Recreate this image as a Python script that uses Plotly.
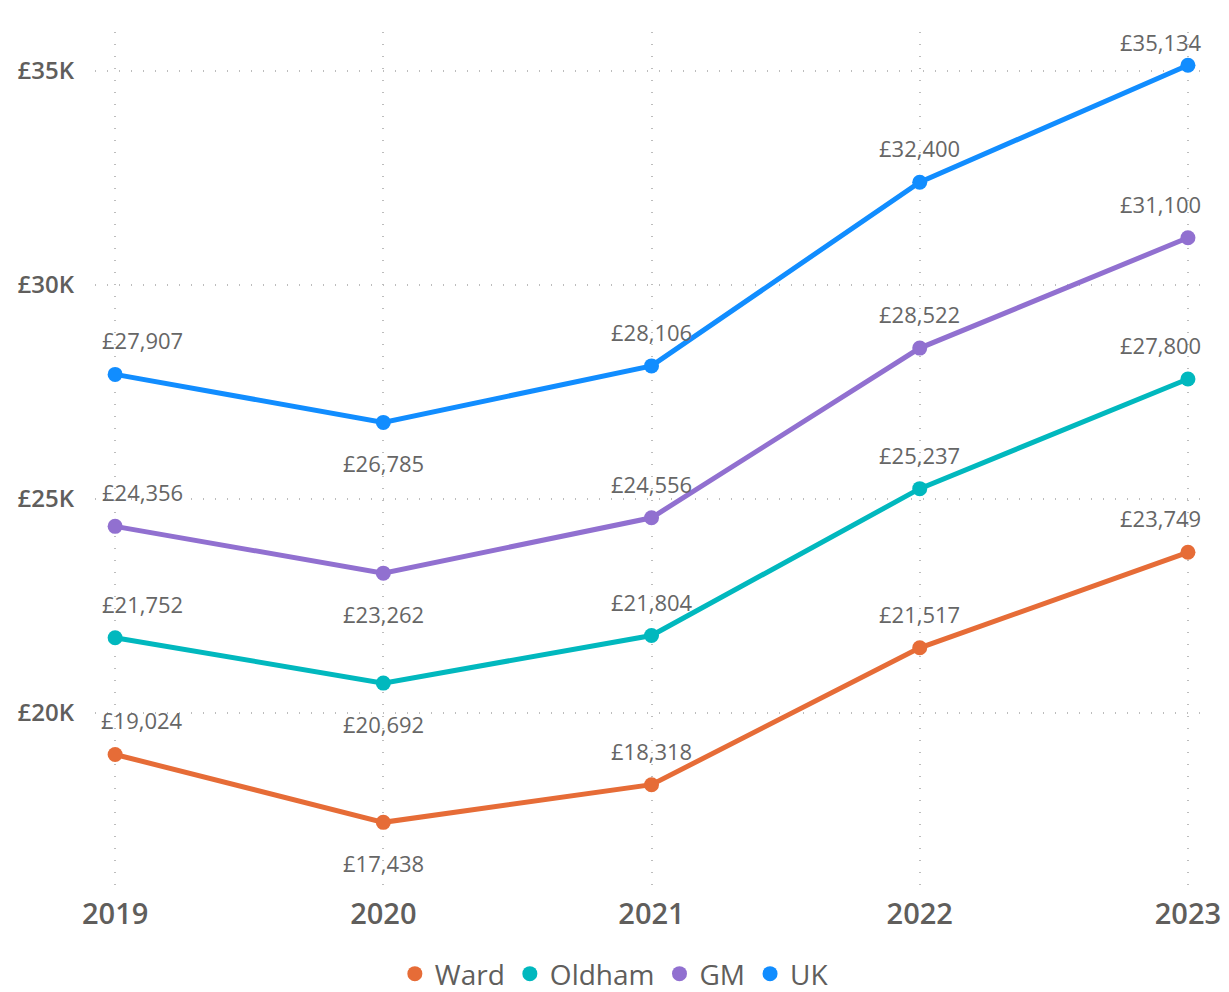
import plotly.graph_objects as go

years = [2019, 2020, 2021, 2022, 2023]
series_names = ["Ward", "Oldham", "GM", "UK"]
ward = [19024, 17438, 18318, 21517, 23749]
oldham = [21752, 20692, 21804, 25237, 27800]
gm = [24356, 23262, 24556, 28522, 31100]
uk = [27907, 26785, 28106, 32400, 35134]
y_tick_vals = [20000, 25000, 30000, 35000]
y_tick_text = ["£20K", "£25K", "£30K", "£35K"]
label_below_years = [2020]

colors = ["#E66C37", "#01B8BE", "#9170D0", "#118DFF"]
series_vals = [ward, oldham, gm, uk]

Y_MIN, Y_MAX = 15950, 35910
X_MIN, X_MAX = 2018.925, 2023.045
# page body has an 8px margin, so the figure is drawn 8px in from the top-left
W, H = 1221, 984
M_L, M_R, M_T, M_B = 87, 29, 24, 106
plot_h = H - M_T - M_B

TEXT_GREY = "#666666"
AXIS_GREY = "#605E5C"
GRID = "#BDBDBD"
FONT = "Open Sans, Noto Sans, DejaVu Sans, sans-serif"

fig = go.Figure()

for name, vals, col in zip(series_names, series_vals, colors):
    fig.add_trace(go.Scatter(
        x=years, y=vals, mode="lines", name=name, legendgroup=name,
        showlegend=False, line=dict(color=col, width=5), hoverinfo="skip"))
for name, vals, col in zip(series_names, series_vals, colors):
    fig.add_trace(go.Scatter(
        x=years, y=vals, mode="markers", name=name, legendgroup=name,
        marker=dict(color=col, size=15)))

annotations = []
for vals in series_vals:
    for i, (yr, v) in enumerate(zip(years, vals)):
        if yr in label_below_years:
            ys = -41
        else:
            px_from_top = (Y_MAX - v) / (Y_MAX - Y_MIN) * plot_h
            ys = min(34, px_from_top - 10)
        xs = 0
        if i == 0:
            xs = 27
        elif i == len(years) - 1:
            xs = -27
        annotations.append(dict(
            x=yr, y=v, xref="x", yref="y", text=f"£{v:,}", showarrow=False,
            xshift=xs, yshift=ys,
            font=dict(family=FONT, size=22, color=TEXT_GREY)))

fig.update_layout(
    width=W, height=H,
    margin=dict(l=M_L, r=M_R, t=M_T, b=M_B, autoexpand=False),
    paper_bgcolor="white", plot_bgcolor="white",
    font=dict(family=FONT),
    annotations=annotations,
    showlegend=True,
    legend=dict(orientation="h", x=0.47, xanchor="center", y=-0.103, yanchor="middle",
                font=dict(family=FONT, size=28, color=AXIS_GREY),
                itemsizing="trace", tracegroupgap=0, itemwidth=30,
                borderwidth=0, bgcolor="rgba(0,0,0,0)"),
    xaxis=dict(range=[X_MIN, X_MAX], tickvals=years, ticktext=[str(y) for y in years],
               showgrid=True, gridcolor=GRID, griddash="1px,11px", gridwidth=1.5,
               zeroline=False, showline=False, ticks="", automargin=False,
               tickfont=dict(family=FONT, size=29, color=AXIS_GREY, weight=600),
               ticklabelstandoff=8),
    yaxis=dict(range=[Y_MIN, Y_MAX], tickvals=y_tick_vals, ticktext=y_tick_text,
               showgrid=True, gridcolor=GRID, griddash="1px,11px", gridwidth=1.5,
               zeroline=False, showline=False, ticks="", automargin=False,
               tickfont=dict(family=FONT, size=24, color=AXIS_GREY, weight=600),
               ticklabelstandoff=20),
)

fig.write_html("out.html")
